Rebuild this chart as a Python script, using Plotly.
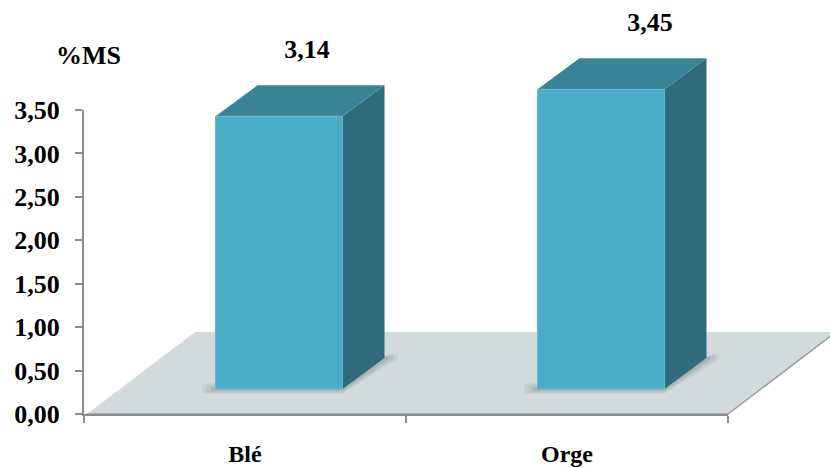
import plotly.graph_objects as go

# ---- data ----
categories = ["Blé", "Orge"]
values = [3.14, 3.45]
value_labels = ["3,14", "3,45"]
y_ticks = [0.0, 0.5, 1.0, 1.5, 2.0, 2.5, 3.0, 3.5]
y_tick_labels = ["0,00", "0,50", "1,00", "1,50", "2,00", "2,50", "3,00", "3,50"]
y_title = "%MS"

# ---- canvas / axis box (pixels) ----
W, H = 830, 468
AX_L, AX_R = 84, 728
AX_T, AX_B = 110, 414
YMAX = 3.5

px_x = (AX_R - AX_L) / len(categories)   # pixels per category unit
px_y = (AX_B - AX_T) / YMAX              # pixels per value unit

# drawing axes cover the full canvas, in category / value units
x_range = [-0.5 - AX_L / px_x, -0.5 + (W - AX_L) / px_x]
y_range = [-(H - AX_B) / px_y, AX_B / px_y]

# 3D geometry (category / value units)
BAR_W = 127 / px_x
BAR_SHIFT_X = 34 / px_x      # front face shift into depth
BAR_LIFT = 25 / px_y
BAR_DX = 42 / px_x
BAR_DY = 31 / px_y
FLOOR_DX = 108 / px_x
FLOOR_DY = 82 / px_y
# value labels drift right with perspective
LABEL_SHIFT_PX = [62, 83]

FRONT = "#4BACC8"
TOP = "#388496"
SIDE = "#2F6B7B"
FLOOR = "#D2DADC"
EDGE = "#9E9E9E"
FONT = "Liberation Serif"
NUM_SIZE = 26

fig = go.Figure()


def poly(xs, ys, fill, line=None, width=0, opacity=1.0):
    fig.add_trace(go.Scatter(
        x=xs + [xs[0]], y=ys + [ys[0]], mode="lines", fill="toself",
        fillcolor=fill, opacity=opacity,
        line=dict(color=line or fill, width=width),
        hoverinfo="skip", showlegend=False, xaxis="x", yaxis="y"))


# floor
fx0, fx1 = -0.5 + 3 / px_x, 1.5
poly([fx0, fx1, fx1 + FLOOR_DX, fx0 + FLOOR_DX],
     [0, 0, FLOOR_DY, FLOOR_DY], FLOOR)
fig.add_trace(go.Scatter(
    x=[fx0, fx1, fx1 + FLOOR_DX], y=[0, 0, FLOOR_DY], mode="lines",
    line=dict(color=EDGE, width=1.5), hoverinfo="skip", showlegend=False))

# bars
for i, v in enumerate(values):
    x0 = i - BAR_W / 2 + BAR_SHIFT_X
    x1 = x0 + BAR_W
    yb = BAR_LIFT
    yt = BAR_LIFT + v
    # soft shadow on the floor
    for k, op in [(13, 0.10), (9, 0.14), (5, 0.20)]:
        sx = k / px_x
        sy = k * 0.35 / px_y
        poly([x0 - sx, x1, x1 + BAR_DX + sx, x1 + BAR_DX + sx, x0 - sx],
             [yb - sy, yb - sy, yb + BAR_DY - sy * 0.3, yb + BAR_DY + sy,
              yb + sy], "#6E7779", opacity=op)
    # side face
    poly([x1, x1 + BAR_DX, x1 + BAR_DX, x1],
         [yb, yb + BAR_DY, yt + BAR_DY, yt], SIDE)
    # top face
    poly([x0, x1, x1 + BAR_DX, x0 + BAR_DX],
         [yt, yt, yt + BAR_DY, yt + BAR_DY], TOP)
    # front face
    poly([x0, x1, x1, x0], [yb, yb, yt, yt], FRONT, line="#5CBAD3", width=1)

# value labels above bar tops
label_x = [i + s / px_x for i, s in enumerate(LABEL_SHIFT_PX)]
label_y = [v + BAR_LIFT + BAR_DY + 34 / px_y for v in values]
fig.add_trace(go.Scatter(
    x=label_x, y=label_y, mode="text", text=value_labels,
    textposition="middle center",
    textfont=dict(family=FONT, size=NUM_SIZE, color="black", weight="bold"),
    hoverinfo="skip", showlegend=False, cliponaxis=False))

# visible axes (second subplot, aligned with the axis box)
fig.add_trace(go.Scatter(x=categories, y=[None, None], xaxis="x2", yaxis="y2",
                         mode="markers", showlegend=False, hoverinfo="skip"))

fig.update_layout(
    width=W, height=H,
    margin=dict(l=0, r=0, t=0, b=0, pad=0, autoexpand=False),
    paper_bgcolor="white", plot_bgcolor="rgba(0,0,0,0)",
    showlegend=False,
    xaxis=dict(range=x_range, visible=False, domain=[0, 1], fixedrange=True,
               automargin=False),
    yaxis=dict(range=y_range, visible=False, domain=[0, 1], fixedrange=True,
               automargin=False),
    xaxis2=dict(
        domain=[AX_L / W, AX_R / W], anchor="y2", type="category",
        categoryorder="array", categoryarray=categories, automargin=False,
        range=[-0.5, 1.5], tickson="boundaries", ticks="outside",
        ticklen=7, tickwidth=2, tickcolor="#8C8C8C",
        showline=True, linecolor="#8C8C8C", linewidth=2,
        showgrid=False, zeroline=False, ticklabelstandoff=17,
        tickfont=dict(family=FONT, size=24, color="black", weight="bold")),
    yaxis2=dict(
        domain=[(H - AX_B) / H, (H - AX_T) / H], anchor="x2", automargin=False,
        range=[0, YMAX], tickvals=y_ticks, ticktext=y_tick_labels,
        ticks="outside", ticklen=7, tickwidth=2, tickcolor="#8C8C8C",
        showline=True, linecolor="#8C8C8C", linewidth=2,
        showgrid=False, zeroline=False, ticklabelstandoff=10,
        tickfont=dict(family=FONT, size=NUM_SIZE, color="black", weight="bold")),
    annotations=[dict(
        text=y_title, x=88 / W, y=1 - 55 / H, xref="paper", yref="paper",
        showarrow=False, xanchor="center", yanchor="middle",
        font=dict(family=FONT, size=NUM_SIZE, color="black", weight="bold"))],
)

fig.write_html("out.html")
